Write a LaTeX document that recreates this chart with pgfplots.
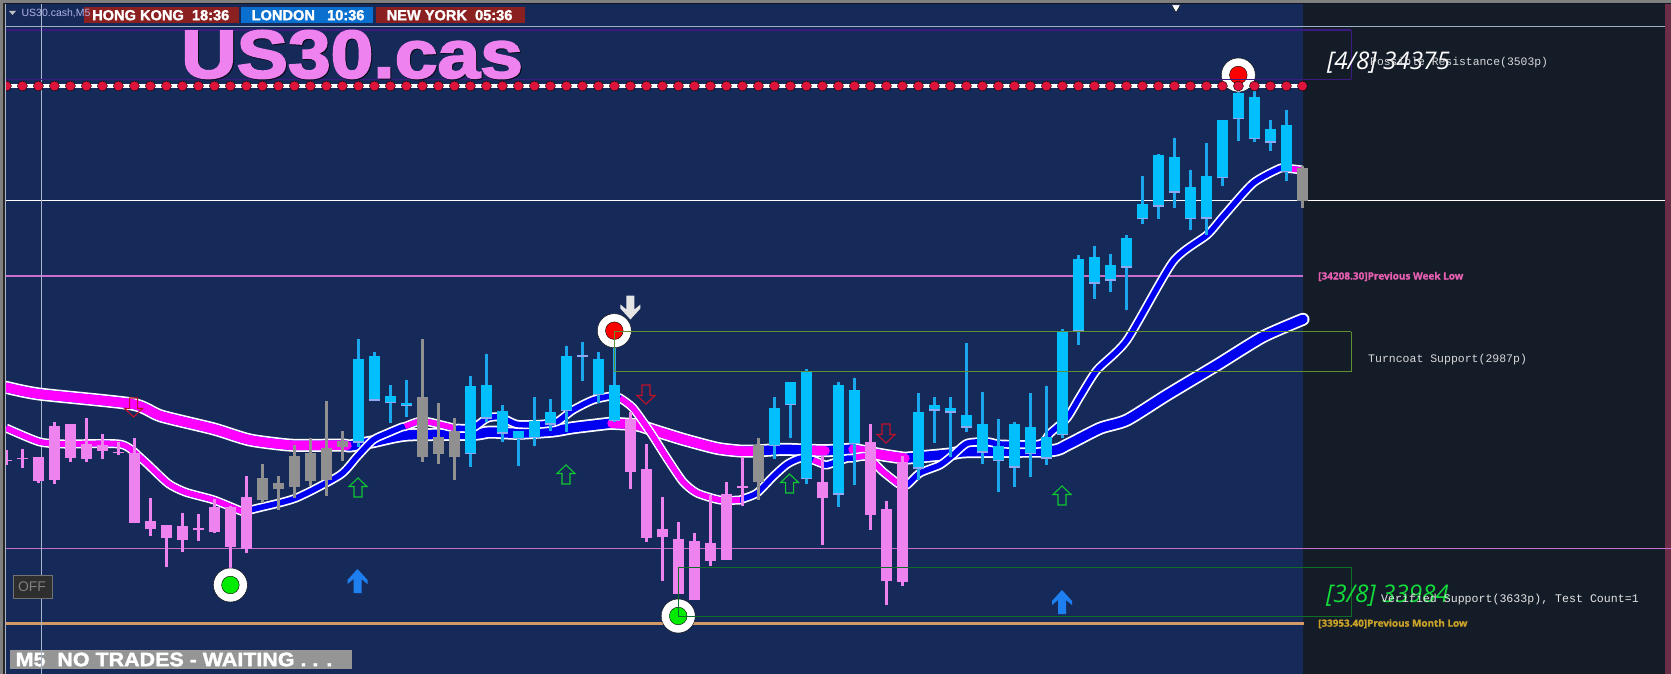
\documentclass[border=0pt]{standalone}
\usepackage{fontspec}
\usepackage{pgfplots}
\usepackage{pgfplotstable}
\pgfplotsset{compat=1.18}
\setmainfont{Liberation Sans}
\setmonofont{Liberation Mono}
\newfontfamily\ital{Open Sans}
\newfontfamily\heavy[BoldFeatures={FakeBold=1.2}]{Open Sans}
\newfontfamily\hb[BoldFeatures={FakeBold=1.6}]{Liberation Sans}
\newfontfamily\hbb[BoldFeatures={FakeBold=2.6}]{Liberation Sans}
\definecolor{navy}{HTML}{162A5A}
\definecolor{panel}{HTML}{141C28}
\definecolor{strip}{HTML}{6B2D48}
\definecolor{cblue}{HTML}{00BFFF}
\definecolor{wblue}{HTML}{1AA7EC}
\definecolor{cpink}{HTML}{EE82EE}
\definecolor{cgray}{HTML}{909090}
\definecolor{lil}{HTML}{8FA8F0}
\definecolor{mag}{HTML}{FF00FF}
\definecolor{mablue}{HTML}{0000F0}
\definecolor{crim}{HTML}{DC143C}
\definecolor{arrblue}{HTML}{1E80F0}
\definecolor{arrgreen}{HTML}{10C830}
\definecolor{arrred}{HTML}{C0102A}
\definecolor{toplin}{HTML}{9DB2C4}
\definecolor{purp}{HTML}{3B1A82}
\definecolor{hair}{HTML}{A9B6C9}
\definecolor{orangel}{HTML}{D39A66}
\definecolor{zoneA}{HTML}{5F8F2F}
\definecolor{zoneB}{HTML}{0E6E28}
\definecolor{lgreen}{HTML}{12DC3A}
\definecolor{lpink}{HTML}{E65FB0}
\definecolor{lgold}{HTML}{C9A227}
\definecolor{clockr}{HTML}{8B2020}
\definecolor{clockb}{HTML}{0A70D0}
\pgfdeclareplotmark{openarrow}{%
  \pgfpathmoveto{\pgfpoint{0pt}{9.5pt}}%
  \pgfpathlineto{\pgfpoint{9pt}{1pt}}%
  \pgfpathlineto{\pgfpoint{4pt}{1pt}}%
  \pgfpathlineto{\pgfpoint{4pt}{-9.5pt}}%
  \pgfpathlineto{\pgfpoint{-4pt}{-9.5pt}}%
  \pgfpathlineto{\pgfpoint{-4pt}{1pt}}%
  \pgfpathlineto{\pgfpoint{-9pt}{1pt}}%
  \pgfpathclose\pgfusepathqstroke}
\pgfdeclareplotmark{fullarrow}{%
  \pgfpathmoveto{\pgfpoint{0pt}{12pt}}%
  \pgfpathlineto{\pgfpoint{10pt}{1pt}}%
  \pgfpathlineto{\pgfpoint{10pt}{-3pt}}%
  \pgfpathlineto{\pgfpoint{4pt}{2pt}}%
  \pgfpathlineto{\pgfpoint{4pt}{-12pt}}%
  \pgfpathlineto{\pgfpoint{-4pt}{-12pt}}%
  \pgfpathlineto{\pgfpoint{-4pt}{2pt}}%
  \pgfpathlineto{\pgfpoint{-10pt}{-3pt}}%
  \pgfpathlineto{\pgfpoint{-10pt}{1pt}}%
  \pgfpathclose\pgfusepathqfill}
% candles: index, high, body top, body bottom, low (screen rows)
\pgfplotstableread{
i hi top bot lo
0 450 460 461.3 465
1 449 457.7 459 468
2 457 457 481 482.7
3 422.3 426 480 484
4 424 424 458.3 461.7
5 418.3 444 459 461.7
6 434 444.7 450.7 459
7 441.7 452.3 453.3 455
8 438 452.7 522.7 522.7
9 498 521 529 535.7
10 525 525 538 566.7
11 513 526 540 551.7
12 514 528.3 529.7 540.7
13 499.3 506.7 532 532.7
14 505.7 506.7 547 568.3
15 476 497.3 548.7 552.7
39 411.7 419 471.7 489
40 444 469 538.3 542
41 497.3 529 537 581
42 522.3 539 594 594
43 533.3 541 600 600
44 495 543 561 566
45 482 494 560 560
46 457.3 486.3 487.7 506
51 456 482 498 545
54 424.3 442.3 515 530
55 501 509 581 605
56 456 462 582 586
}\pinkc
\pgfplotstableread{
i hi top bot lo
16 464.3 478 500 502.7
17 476 482.7 489 510
18 445 456 487.3 498.3
19 438.3 453.3 480.7 485.7
20 401 448.3 480 495.7
21 431 441 447.3 460.7
26 339 397 456.7 461.7
27 403 437 454 464
28 418.3 430.7 456.7 480
47 438.3 445 482.3 500
81 166 168 201 208
}\grayc
\pgfplotstableread{
i hi top bot lo
22 339 359 442.7 447.3
23 351.7 356 400.7 400.7
24 385 396 403.3 422.7
25 380 403 406 416.7
29 376 386 454 466.7
30 354 385 418.7 421.7
31 405 411 433.7 442
32 431.3 431.3 439.3 465.7
33 397.3 421.3 438.3 446
34 399 412 424.7 430.7
35 346 356 411 431.7
36 342 355.3 356.7 381
37 352.3 359 395 403.3
38 331 385 421 421.7
48 397 408.3 446 459
49 382 382 405.3 437.7
50 369.3 371.7 479.3 484
52 381.7 385.3 494.7 506.7
53 378.3 390.3 444.3 485
57 393 412.3 468.7 480
58 397 405 410.7 443
59 397 408 412.7 457
60 343.3 415 427.7 431.7
61 392 424.3 452.7 463.7
62 419.3 446.3 461.3 491.7
63 422 424 467.7 486.7
64 393 427 454 477
65 386 437 458.7 465
66 329 331.3 435.3 438.3
67 255.3 259 331 345
68 246 257 283.7 299
69 254 265 280.7 292
70 235 238 267.7 310
71 176 204 219.3 224
72 154 154.7 206.7 219
73 138 157 192.7 208
74 170 187 219.3 230
75 143 176 218.7 235
76 120 120 178.3 186
77 75 93.3 119.3 141
78 91 97 139.3 142
79 120 129 142.7 151
80 110 125 172.3 181
}\bluec
% moving averages: x, y, m=1 where the line is magenta
\pgfplotstableread{
x y m
6 387.3 1
39 394 1
132 404 1
161 416 1
214 429 1
250 440 1
293 445.3 1
339 445 1
347 445.5 1
350 446 0
373 441.7 0
407 435 0
473 434.3 0
490 432 0
517 433.3 0
553 431 0
573 427.7 0
609 423.4 0
612 423.3 1
637 425 1
653 430 1
683 439.3 1
717 448.3 1
740 451 1
753 451 1
757 451 0
783 449.3 0
809 450.3 0
812 450.4 1
825 450.7 1
828 450.6 0
849 449.4 0
853 449.3 1
883 455 1
905 458.3 1
908 458 0
950 454 0
967 451.7 0
1050 450.7 0
1067 445 0
1100 428.3 0
1127 420 0
1167 395 0
1217 365 0
1263 336.7 0
1303 319.3 0
}\slowma
\pgfplotstableread{
x y m
6 428 1
39 441.7 1
64 444 1
121 444.3 1
143 460 1
168 483.3 1
186 492.3 1
214 500 1
243 511.7 1
247 510.6 1
250 510 0
257 508.3 0
296 498 0
340 475 0
357 456.7 0
373 440 0
387 433.3 0
402 427 0
405 426.5 1
423 421 1
455 428.3 1
458 428.2 0
473 428 0
487 418.3 0
500 417 0
517 424.3 0
540 424.3 0
557 421.7 0
573 410 0
593 400 0
613 395.7 0
617 397 0
620 398 1
633 408 1
650 431.7 1
667 458.3 1
683 481.7 1
697 493 1
720 500 1
740 500 1
744 498.5 0
757 493 0
773 476.7 0
787 464.3 0
800 458.3 0
810 459.5 0
813 460 1
823 464 1
827 465 0
847 458.3 0
853 458 1
867 456.7 1
883 471.7 1
898 483.5 1
902 485 0
907 485 0
920 473 0
940 465 0
953 455 0
967 443.3 0
987 441.7 0
1000 444 0
1040 444 0
1050 433.3 0
1067 418 0
1080 396.7 0
1097 370 0
1127 340 0
1173 261.7 0
1207 235 0
1223 216.7 0
1253 183.3 0
1280 168.3 0
1288 168.5 0
1291 168.7 1
1302 170 1
}\fastma
\newcommand\candles[3]{%
  \addplot[draw=none,mark=none,error bars/.cd,y dir=plus,y explicit,error mark=none,
    error bar style={line width=2.7pt,color=#3}]
    table[x expr={6.4+16*\thisrow{i}},y=hi,y error plus expr={\thisrow{lo}-\thisrow{hi}}]{#1};
  \addplot[draw=none,mark=none,error bars/.cd,y dir=plus,y explicit,error mark=none,
    error bar style={line width=11pt,color=#2}]
    table[x expr={6.4+16*\thisrow{i}},y=top,y error plus expr={\thisrow{bot}-\thisrow{top}}]{#1};
}
\newcommand\resdots[1]{%
  \addplot[only marks,mark=*,mark size=5pt,mark options={fill=crim,draw=none}]
    table[x expr={6.4+16*\thisrow{i}},y expr=86]{#1};
}
\begin{document}
\begin{tikzpicture}
\begin{axis}[at={(0,0)},anchor=south west,scale only axis,width=1671pt,height=674pt,
  xmin=0,xmax=1671,ymin=0,ymax=674,y dir=reverse,hide axis,unbounded coords=jump,clip marker paths=true]
% panels
\fill[navy] (0,0) rectangle (1303,674);
\fill[panel] (1303,0) rectangle (1665,674);
\fill[strip] (1665,0) rectangle (1671,674);
% horizontal levels
\addplot[color=white,line width=1.1pt] coordinates {(5,200.3)(1665,200.3)};
\addplot[color=toplin,line width=1pt] coordinates {(5,26.3)(1665,26.3)};
\addplot[color=purp,line width=1.4pt] coordinates {(5,30)(1351,30)};
\addplot[color=cpink!85!black,line width=2pt] coordinates {(5,276)(1303,276)};
\addplot[color=cpink!85!black,line width=1pt] coordinates {(5,548.5)(1671,548.5)};
\addplot[color=orangel,line width=3pt] coordinates {(5,623.3)(1304,623.3)};
\addplot[color=hair,line width=0.9pt] coordinates {(41.7,4)(41.7,674)};
% bottom status bar
\fill[cgray!95!white] (10,650) rectangle (352,668.7);
\node[anchor=west,inner sep=0pt,text=white,xscale=1.1,font=\hb\bfseries\fontsize{19.5}{20}\selectfont] at (15.5,659.5) {M5\ \ NO TRADES - WAITING . . .};
\addplot[color=hair,line width=0.9pt] coordinates {(41.7,650)(41.7,669)};
% moving averages
\addplot[smooth,tension=0.4,color=white,line width=13pt,line cap=round,line join=round] table[x=x,y=y]{\slowma};
\addplot[smooth,tension=0.4,color=mablue,line width=9.5pt,line cap=round,line join=round] table[x=x,y=y]{\slowma};
\addplot[smooth,tension=0.4,color=mag,line width=9.5pt,line cap=round,line join=round] table[x=x,y expr={\thisrow{m}==1 ? \thisrow{y} : nan}]{\slowma};
\addplot[smooth,tension=0.4,color=white,line width=9pt,line join=round] table[x=x,y=y]{\fastma};
\addplot[smooth,tension=0.4,color=mablue,line width=5.6pt,line join=round] table[x=x,y=y]{\fastma};
\addplot[smooth,tension=0.4,color=mag,line width=5.6pt,line join=round] table[x=x,y expr={\thisrow{m}==1 ? \thisrow{y} : nan}]{\fastma};
% candles
\candles{\pinkc}{cpink}{cpink}
\candles{\grayc}{cgray}{cgray}
\candles{\bluec}{cblue}{wblue}
\addplot[draw=none,mark=none,error bars/.cd,y dir=plus,y explicit,error mark=none,
    error bar style={line width=11pt,color=lil}]
    table[x expr={6.4+16*\thisrow{i}},y expr={\thisrow{bot}-1.3},y error plus expr=1.3]{\bluec};
% arrows
\addplot[only marks,mark=openarrow,mark options={draw=arrgreen,line width=1.1pt}] coordinates {(358,487.5)(566,474.5)(789.6,483.5)(1062,495.5)};
\addplot[only marks,mark=openarrow,mark options={draw=arrred,line width=1.1pt,rotate=180}] coordinates {(133.6,407.5)(646,394.5)(886,433.5)};
\addplot[only marks,mark=fullarrow,mark options={fill=arrblue,draw=none}] coordinates {(357.5,581)(1062,602)};
\addplot[only marks,mark=fullarrow,mark options={fill=gray!20!white,draw=none,rotate=180}] coordinates {(630.4,307.5)};
% swing circles
\addplot[only marks,mark=*,mark size=17pt,mark options={fill=white,draw=none}] coordinates {(230.4,585)(678.2,616)(614.3,330.7)(1238.3,75)};
\addplot[only marks,mark=*,mark size=8.8pt,mark options={fill=green!92!black,draw=none}] coordinates {(230.4,585)(678.2,616)};
\addplot[only marks,mark=*,mark size=8.8pt,mark options={fill=red,draw=none}] coordinates {(614.3,330.7)(1238.3,75)};
% resistance line
\addplot[color=white,line width=4pt] coordinates {(6.4,86)(1302.4,86)};
\resdots{\pinkc}
\resdots{\grayc}
\resdots{\bluec}
% zones
\addplot[color=purp,line width=1.4pt] coordinates {(5,79.5)(1351,79.5)};
\addplot[color=purp,line width=0.8pt] coordinates {(1351,30)(1351,79.5)};
\addplot[color=zoneA,line width=0.9pt] coordinates {(1351,331.7)(614.3,331.7)(614.3,371.3)(1351,371.3)(1351,331.7)};
\addplot[color=zoneB,line width=1pt] coordinates {(1351,567.3)(678.2,567.3)(678.2,616.3)(1351,616.3)(1351,567.3)};
% frame
\addplot[color=gray,line width=2.6pt] coordinates {(0,1.3)(1671,1.3)};
\addplot[color=panel!80!black,line width=1.4pt] coordinates {(0,3.3)(1671,3.3)};
\addplot[color=black!85,line width=2.4pt] coordinates {(3.9,2.6)(3.9,674)};
\addplot[color=gray,line width=2.8pt] coordinates {(1.4,0)(1.4,674)};
\addplot[color=hair,line width=0.8pt] coordinates {(5.3,4)(5.3,674)};
\addplot[only marks,mark=triangle*,mark size=5pt,mark options={fill=white,draw=none,rotate=180}] coordinates {(1176,7.5)};
\fill[lightgray] (9,11) -- (16,11) -- (12.5,15) -- cycle;
% clock bars
\fill[clockr] (84,7.3) rectangle (238.6,22.7);
\fill[clockb] (241,7.3) rectangle (373,22.7);
\fill[clockr] (375.7,7.3) rectangle (524.5,22.7);
\node[anchor=west,inner sep=0pt,text=gray!50!blue!40!white,font=\fontsize{10.5}{12}\selectfont] at (21.4,13) {US30.cash,M5};
\node[anchor=west,inner sep=0pt,text=white,font=\hb\bfseries\fontsize{14.6}{15}\selectfont] at (92,15.2) {HONG KONG\ \ 18:36};
\node[anchor=west,inner sep=0pt,text=white,font=\hb\bfseries\fontsize{14.6}{15}\selectfont] at (251.5,15.2) {LONDON\ \ \ 10:36};
\node[anchor=west,inner sep=0pt,text=white,font=\hb\bfseries\fontsize{14.6}{15}\selectfont] at (386.5,15.2) {NEW YORK\ \ 05:36};
% title
\node[anchor=west,inner sep=0pt,text=black!70!navy,font=\hbb\bfseries\fontsize{68}{68}\selectfont,xscale=1.13] at (182,55.5) {US30.cas};
\node[anchor=west,inner sep=0pt,text=cpink,font=\hbb\bfseries\fontsize{68}{68}\selectfont,xscale=1.13] at (181,54.5) {US30.cas};
% labels
\node[anchor=west,inner sep=0pt,text=white,font=\ital\itshape\fontsize{24.3}{25}\selectfont] at (1327,63) {[4/8] 34375};
\node[anchor=west,inner sep=0pt,text=white!85!black,font=\ttfamily\fontsize{11.4}{12}\selectfont] at (1370,62.5) {Possible Resistance(3503p)};
\node[anchor=west,inner sep=0pt,text=white!85!black,font=\ttfamily\fontsize{11.5}{12}\selectfont] at (1368,359.3) {Turncoat Support(2987p)};
\node[anchor=west,inner sep=0pt,text=lgreen,font=\ital\itshape\fontsize{24.3}{25}\selectfont] at (1326,595.5) {[3/8] 33984};
\node[anchor=west,inner sep=0pt,text=white!90!black,font=\ttfamily\fontsize{11.6}{12}\selectfont] at (1381,599.3) {Verified Support(3633p), Test Count=1};
\node[anchor=west,inner sep=0pt,text=lpink,font=\heavy\bfseries\fontsize{10}{11}\selectfont] at (1318,276.5) {[34208.30]Previous Week Low};
\node[anchor=west,inner sep=0pt,text=lgold,font=\heavy\bfseries\fontsize{9.9}{11}\selectfont] at (1318,623.7) {[33953.40]Previous Month Low};
% OFF button
\fill[black!82,draw=black!55,line width=0.7pt] (13,575.7) rectangle (52,598);
\node[text=gray,inner sep=0pt,font=\fontsize{14}{14}\selectfont] at (32,587) {OFF};
\end{axis}
\end{tikzpicture}
\end{document}
